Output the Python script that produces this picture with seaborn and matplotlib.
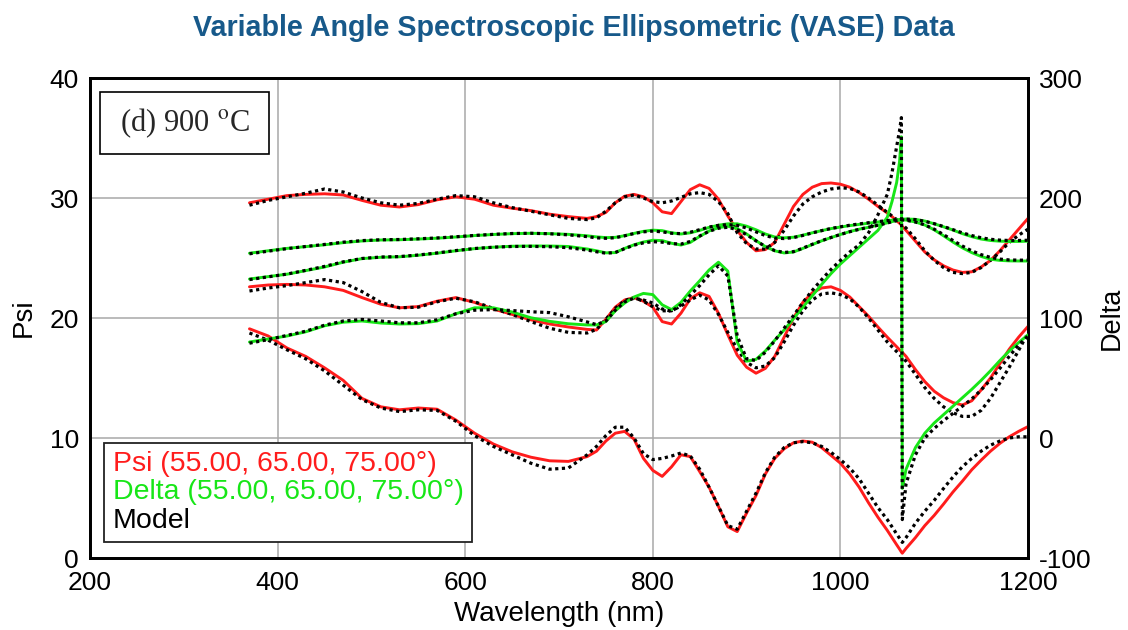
import matplotlib
matplotlib.use("Agg")
import matplotlib.pyplot as plt
from matplotlib.lines import Line2D
from matplotlib.patches import Rectangle
import pandas as pd
import seaborn as sns

# Wavelength grid (nm); denser sampling around the 1066 nm feature
wavelength = [370, 390, 410, 430, 450, 470, 490, 510, 530, 550, 570, 590, 610, 630, 650, 670, 690, 710, 730,
              740, 750, 760, 770, 780, 790, 800, 810, 820, 830, 840, 850, 860, 870, 880, 890, 900, 910, 920,
              930, 940, 950, 960, 970, 980, 990, 1000, 1010, 1020, 1030, 1040, 1050,
              1055, 1060, 1063, 1065, 1066, 1067, 1070,
              1080, 1090, 1100, 1110, 1120, 1130, 1140, 1150, 1160, 1170, 1180, 1190, 1200]

# Measured Psi (deg)
psi_1 = [29.6, 29.9, 30.2, 30.3, 30.35, 30.25, 29.8, 29.4, 29.25, 29.45, 29.85, 30.1, 29.9, 29.4, 29.15, 28.95, 28.65, 28.45, 28.3,
         28.45, 28.8, 29.6, 30.15, 30.3, 30.1, 29.6, 28.85, 28.7, 29.7, 30.7, 31.1, 30.8, 29.9, 28.5, 27.3, 26.3, 25.6, 25.7,
         26.3, 27.8, 29.3, 30.3, 30.9, 31.2, 31.25, 31.15, 30.9, 30.45, 29.9, 29.3, 28.75,
         28.45, 28.1, 27.9, 27.75, 27.6, 27.55, 27.3,
         26.4, 25.5, 24.85, 24.35, 24.0, 23.8, 23.85, 24.25, 24.8, 25.6, 26.5, 27.4, 28.3]
psi_2 = [22.6, 22.75, 22.8, 22.75, 22.6, 22.3, 21.7, 21.15, 20.85, 20.95, 21.4, 21.7, 21.3, 20.75, 20.3, 19.85, 19.5, 19.25, 19.05,
         19.0, 19.9, 20.9, 21.5, 21.7, 21.4, 20.9, 19.7, 19.5, 20.4, 21.6, 22.1, 21.8, 20.4, 18.6, 16.9, 15.9, 15.4, 15.8,
         16.8, 18.4, 20.0, 21.3, 22.1, 22.5, 22.6, 22.3, 21.75, 20.95, 20.15, 19.25, 18.4,
         18.0, 17.6, 17.35, 17.2, 17.15, 17.05, 16.8,
         15.7, 14.7, 13.9, 13.35, 12.95, 12.75, 13.1, 14.0, 15.0, 16.2, 17.4, 18.4, 19.3]
psi_3 = [19.1, 18.5, 17.5, 16.8, 15.85, 14.8, 13.3, 12.6, 12.35, 12.5, 12.4, 11.5, 10.4, 9.5, 8.85, 8.4, 8.1, 8.05, 8.45,
         8.9, 9.75, 10.4, 10.55, 9.9, 8.3, 7.3, 6.8, 7.6, 8.6, 8.45, 7.2, 5.9, 4.3, 2.6, 2.2, 3.75, 5.2, 7.0,
         8.3, 9.1, 9.6, 9.75, 9.65, 9.2, 8.55, 7.9, 7.0, 5.9, 4.6, 3.4, 2.3,
         1.7, 1.1, 0.75, 0.5, 0.4, 0.5, 0.8,
         1.7, 2.7, 3.55, 4.5, 5.5, 6.4, 7.35, 8.15, 8.9, 9.55, 10.1, 10.55, 10.95]

# Model Psi (deg)
psi_1_model = [29.4, 29.8, 30.1, 30.4, 30.75, 30.5, 30.0, 29.6, 29.4, 29.55, 29.9, 30.2, 30.1, 29.6, 29.2, 28.9, 28.6, 28.3, 28.2,
               28.35, 28.9, 29.6, 30.1, 30.25, 30.0, 29.7, 29.6, 29.75, 30.05, 30.35, 30.45, 30.3, 29.7, 28.7, 27.1, 26.2, 25.75, 25.75,
               26.3, 27.3, 28.5, 29.5, 30.1, 30.5, 30.75, 30.85, 30.8, 30.5, 30.0, 29.4, 28.8,
               28.5, 28.2, 28.0, 27.85, 27.75, 27.7, 27.5,
               26.6, 25.6, 24.8, 24.2, 23.8, 23.7, 23.8, 24.2, 24.8, 25.5, 26.3, 26.9, 27.4]
psi_2_model = [22.25, 22.5, 22.7, 22.95, 23.2, 22.95, 22.2, 21.3, 20.85, 20.9, 21.35, 21.65, 21.35, 20.8, 20.3, 19.7, 19.15, 18.8, 18.75,
               19.05, 19.9, 20.8, 21.45, 21.7, 21.4, 20.95, 20.6, 20.6, 21.0, 21.5, 21.9, 21.5, 20.3, 18.8, 17.4, 16.3, 15.85, 16.0,
               16.7, 18.0, 19.4, 20.6, 21.5, 22.0, 22.1, 21.95, 21.6, 20.9, 20.0, 19.0, 18.0,
               17.6, 17.2, 16.95, 16.8, 16.75, 16.65, 16.4,
               15.3, 14.2, 13.3, 12.6, 12.1, 11.8, 11.8, 12.3, 13.3, 14.6, 15.9, 17.3, 18.75]
psi_3_model = [18.75, 18.15, 17.35, 16.6, 15.6, 14.4, 13.2, 12.5, 12.2, 12.35, 12.3, 11.4, 10.2, 9.3, 8.6, 7.9, 7.4, 7.5, 8.6,
               9.3, 10.2, 10.9, 10.9, 10.0, 8.7, 8.2, 8.3, 8.5, 8.75, 8.5, 7.4, 5.9, 4.3, 2.7, 2.4, 3.9, 5.4, 7.1,
               8.4, 9.2, 9.6, 9.7, 9.6, 9.3, 8.8, 8.2, 7.5, 6.6, 5.4, 4.2, 3.2,
               2.6, 2.0, 1.65, 1.4, 1.3, 1.4, 1.7,
               2.9, 3.9, 4.8, 5.8, 6.75, 7.6, 8.3, 8.9, 9.4, 9.75, 10.0, 10.1, 10.1]

# Measured Delta (deg)
delta_1 = [154, 156, 158, 159.5, 161, 162.8, 164.2, 165, 165.2, 165.8, 166.5, 167.5, 168.7, 169.6, 170.3, 170.6, 170.3, 169.7, 168.5,
           167.6, 167, 167.2, 168.6, 170.5, 172.2, 173.2, 172.8, 171, 170, 171, 173, 175.5, 177.3, 178.5, 178.5, 176.5, 173.5, 170,
           167.5, 166.8, 167.3, 169, 171, 172.8, 174.5, 175.8, 177, 178, 179, 180, 181,
           181.5, 181.8, 182, 182.2, 182.3, 182.4, 182.5,
           182.2, 180.8, 178.5, 176, 173.3, 170.3, 167.8, 165.8, 164.6, 164, 163.8, 163.8, 164]
delta_2 = [132.5, 134.5, 136.5, 139.5, 142.5, 146.5, 149.5, 150.6, 151, 152.3, 154, 156, 157.8, 159, 159.8, 160, 160, 159.6, 157.5,
           156, 154.3, 154.5, 158, 161, 163.3, 164.8, 164.5, 162.3, 160.8, 163, 168, 172.5, 175.3, 176.5, 174.5, 170, 164.5, 159.5,
           156, 154.2, 155, 158, 161.2, 164.3, 167, 169.6, 172, 174, 175.6, 177.3, 179.3,
           180.3, 181.2, 181.6, 181.8, 181.8, 181.8, 181.6,
           180, 177.5, 173.5, 168.5, 163.3, 158.5, 154.5, 151.3, 149, 148, 147.6, 147.5, 147.5]
delta_3 = [80, 82.5, 85, 88.5, 93.5, 96.5, 97.5, 95.8, 95, 95.3, 97.5, 103.5, 108.5, 108.5, 105, 100.2, 97.2, 95.2, 94.2,
           94.2, 97, 106, 112.5, 117.5, 120.5, 119.5, 111, 107, 113, 122.5, 131, 140, 146.5, 139, 80, 64, 65.5, 72.5,
           81.5, 90, 99.5, 109, 118.5, 128, 137, 145, 152, 159, 166, 173, 184,
           197, 213, 230, 251, -42, -38, -26,
           -8, 4, 12.5, 19.5, 26.5, 33.5, 40.5, 48, 56, 64.5, 72.5, 79.5, 86]

# Model Delta (deg)
delta_1_model = [153.5, 155.7, 157.8, 159.6, 161.3, 163.2, 164.5, 165.2, 165.4, 166, 166.7, 167.7, 168.8, 169.7, 170.4, 170.6, 170.2, 169.3, 167.8,
                 166.8, 166.4, 166.9, 168.5, 170.4, 171.8, 172.4, 171.8, 170.6, 170.3, 171.5, 173.6, 175.8, 177.2, 177.8, 177.2, 175, 171.8, 168.7,
                 166.6, 166.2, 167, 168.8, 170.9, 172.8, 174.6, 176, 177.3, 178.4, 179.4, 180.3, 181.2,
                 181.6, 182, 182.2, 182.3, 182.4, 182.4, 182.4,
                 182, 180.6, 178.6, 176.2, 173.6, 171, 168.7, 166.9, 165.6, 164.9, 164.6, 164.6, 164.8]
delta_2_model = [132, 134.3, 136.6, 139.7, 143, 146.8, 149.6, 150.8, 151.2, 152.5, 154.2, 156.2, 157.9, 159, 159.6, 159.7, 159.4, 158.6, 156.6,
                 155.2, 154, 154.6, 157.8, 160.7, 162.6, 163.6, 163.2, 162, 161.6, 163.8, 168.3, 172.3, 174.8, 175.6, 173.6, 169.4, 164.3, 159.6,
                 156.2, 154.6, 155.3, 158.2, 161.4, 164.4, 167.1, 169.6, 171.9, 173.9, 175.6, 177.3, 179.2,
                 180.2, 181.1, 181.5, 181.7, 181.7, 181.7, 181.5,
                 180, 177.6, 174, 169.5, 164.6, 160, 156, 152.8, 150.5, 149.1, 148.4, 148.2, 148.2]
delta_3_model = [79, 82, 85.5, 89, 94, 97.5, 98.8, 97.5, 96, 96, 98.5, 103.5, 106.5, 107, 106.2, 105.2, 104.5, 101, 96.7,
                 94.5, 97.5, 106.5, 113.5, 116.5, 115, 112.5, 107.5, 105.5, 111, 119, 127, 136, 143.5, 135, 85, 66, 64.5, 71.5,
                 81, 91.5, 102, 113, 123, 132, 140.5, 148, 155, 161, 171, 186, 203,
                 221, 243, 256, 267, -68, -60, -38,
                 -14, 0, 8, 14.5, 20.5, 26.5, 32.5, 40, 48.5, 58, 68, 77.5, 85]

legend_labels = ["Psi (55.00, 65.00, 75.00\u00b0)", "Delta (55.00, 65.00, 75.00\u00b0)", "Model"]
x_ticks = [200, 400, 600, 800, 1000, 1200]
psi_ticks = [0, 10, 20, 30, 40]
delta_ticks = [-100, 0, 100, 200, 300]

RED = "#ff1c1c"
GREEN = "#17e617"
TITLE_BLUE = "#17598a"

sns.set_style("white")
plt.rcParams["font.family"] = ["Liberation Sans", "DejaVu Sans"]
plt.rcParams["mathtext.fontset"] = "stix"
plt.rcParams["axes.unicode_minus"] = False

fig = plt.figure(figsize=(11.28, 6.30), dpi=100)
ax = fig.add_axes([90 / 1128, 72 / 630, 938 / 1128, 480 / 630])
ax2 = ax.twinx()


def draw(axis, values, color, dotted=False):
    df = pd.DataFrame({"wavelength": wavelength, "value": values})
    if dotted:
        style = dict(lw=2.3, linestyle=(0, (1.0, 1.1)), dash_capstyle="butt", zorder=4)
    else:
        style = dict(lw=2.1, zorder=3)
    sns.lineplot(data=df, x="wavelength", y="value", ax=axis, color=color,
                 sort=False, estimator=None, legend=False, **style)


for series in (psi_1, psi_2, psi_3):
    draw(ax, series, RED)
for series in (psi_1_model, psi_2_model, psi_3_model):
    draw(ax, series, "black", dotted=True)
for series in (delta_1, delta_2, delta_3):
    draw(ax2, series, GREEN)
for series in (delta_1_model, delta_2_model, delta_3_model):
    draw(ax2, series, "black", dotted=True)

ax.set_xlim(200, 1200)
ax.set_ylim(0, 40)
ax2.set_ylim(-100, 300)
ax.set_xticks(x_ticks)
ax.set_yticks(psi_ticks)
ax2.set_yticks(delta_ticks)

ax.grid(True, color="#a8a8a8", lw=1.1)
ax.set_axisbelow(True)
ax2.grid(False)

for a in (ax, ax2):
    for s in a.spines.values():
        s.set_linewidth(2.0)
        s.set_color("black")
        s.set_visible(True)
    a.tick_params(axis="both", length=0, labelsize=19, pad=8, colors="black")
ax.tick_params(axis="x", pad=9)

ax.set_xlabel("Wavelength (nm)", fontsize=20, labelpad=5, color="black")
ax.set_ylabel("Psi", fontsize=20, labelpad=9, color="black")
ax2.set_ylabel("Delta", fontsize=19.5, labelpad=5, color="black")

fig.text(574 / 1128, 1 - 36 / 630, "Variable Angle Spectroscopic Ellipsometric (VASE) Data",
         ha="center", va="baseline", fontsize=20.6, fontweight="bold", color=TITLE_BLUE)

handles = [Line2D([], [], linestyle="none") for _ in legend_labels]
leg = ax2.legend(handles, legend_labels, loc="lower left", bbox_to_anchor=(0.0149, 0.033),
                 borderaxespad=0, fontsize=20.5, handlelength=0, handletextpad=0,
                 labelcolor=[RED, GREEN, "black"], frameon=True, fancybox=False,
                 edgecolor="#222222", framealpha=1, borderpad=0.3, labelspacing=0.08)
leg.get_frame().set_linewidth(1.3)
leg.set_zorder(10)

ax2.add_patch(Rectangle((0.0107, 0.842), 0.18, 0.129, transform=ax2.transAxes,
                        facecolor="white", edgecolor="black", lw=1.2, zorder=9))
ax2.text(0.1007, 0.906, r"(d) 900 $^{\mathrm{o}}$C", transform=ax2.transAxes,
         family="Liberation Serif", fontsize=22, ha="center", va="center", zorder=10)

fig.savefig("out.png", dpi=100)
